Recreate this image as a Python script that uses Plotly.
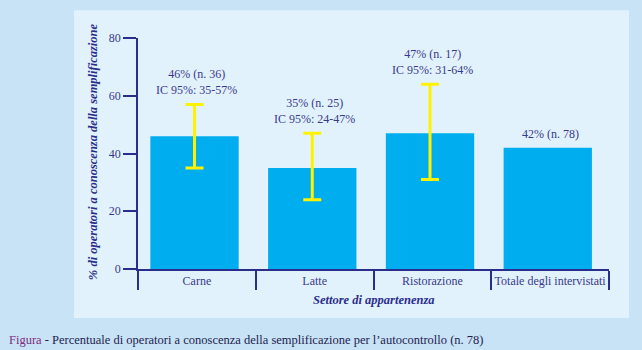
import plotly.graph_objects as go

categories = ["Carne", "Latte", "Ristorazione", "Totale degli intervistati"]
percent = [46, 35, 47, 42]
n_count = [36, 25, 17, 78]
ci_low = [35, 24, 31]
ci_high = [57, 47, 64]
y_ticks = [0, 20, 40, 60, 80]

NAVY = "#2b2d8c"
TXT = "#3a3a8a"
BAR = "#00aeef"
YEL = "#fff200"
SERIF = "Liberation Serif, Times New Roman, serif"

fig = go.Figure()
fig.add_trace(go.Bar(
    x=categories[:3], y=percent[:3], width=0.75, offset=-0.395, marker_color=BAR,
    marker_line_width=0,
    error_y=dict(type="data", symmetric=False,
                 array=[h - v for h, v in zip(ci_high, percent[:3])],
                 arrayminus=[v - l for l, v in zip(ci_low, percent[:3])],
                 color=YEL, thickness=3, width=9),
    hoverinfo="skip"))
fig.add_trace(go.Bar(
    x=categories[3:], y=percent[3:], width=0.75, offset=-0.395, marker_color=BAR,
    marker_line_width=0, hoverinfo="skip"))

# value labels
for i, c in enumerate(categories):
    if i < 3:
        txt = f"{percent[i]}% (n. {n_count[i]})<br>IC 95%: {ci_low[i]}-{ci_high[i]}%"
        top = ci_high[i]
    else:
        txt = f"{percent[i]}% (n. {n_count[i]})"
        top = percent[i]
    fig.add_annotation(x=c, y=top, text=txt, showarrow=False, yanchor="bottom",
                       yshift=5, font=dict(family=SERIF, size=12, color=TXT))

# panel
fig.add_shape(type="rect", xref="paper", yref="paper", x0=-0.136, x1=1.0425,
              y0=-0.212, y1=1.12, fillcolor="#e1f2fc", line_width=0, layer="below")

# axis titles
fig.add_annotation(xref="paper", yref="paper", x=-0.0956, xanchor="center", y=0.51,
                   yanchor="middle", textangle=-90,
                   text="<i><b>% di operatori a conoscenza della semplificazione</b></i>",
                   showarrow=False, font=dict(family=SERIF, size=12.5, color=NAVY))
fig.add_annotation(xref="paper", yref="paper", x=0.5, xanchor="center", y=-0.136,
                   yanchor="middle",
                   text="<i><b>Settore di appartenenza</b></i>",
                   showarrow=False, font=dict(family=SERIF, size=12.5, color=NAVY))
# caption
fig.add_annotation(xref="paper", yref="paper", x=-0.279, xanchor="left", y=-0.309,
                   yanchor="middle",
                   text="<span style='color:#7b2f7b'>Figura</span> - Percentuale di operatori a conoscenza della semplificazione per l\u2019autocontrollo (n. 78)",
                   showarrow=False, font=dict(family=SERIF, size=12.5, color="#1e1e50"))

fig.update_layout(
    width=642, height=350, margin=dict(l=138, r=33, t=38, b=81),
    paper_bgcolor="#c8e2f6", plot_bgcolor="rgba(0,0,0,0)",
    barmode="overlay", showlegend=False,
    xaxis=dict(type="category", range=[-0.5, 3.5], tickson="boundaries", ticks="outside",
               ticklen=19, tickwidth=1.5, tickcolor=NAVY, showline=True, linecolor=NAVY,
               linewidth=1.5, showgrid=False, tickangle=0,
               tickfont=dict(family=SERIF, size=12, color=TXT), fixedrange=True),
    yaxis=dict(range=[0, 80], tickvals=y_ticks, ticks="outside", ticklen=13, tickwidth=1.5,
               tickcolor=NAVY, showline=True, linecolor=NAVY, linewidth=1.5, showgrid=False,
               zeroline=False, tickfont=dict(family=SERIF, size=12, color=TXT), fixedrange=True),
)
fig.write_html("out.html")
